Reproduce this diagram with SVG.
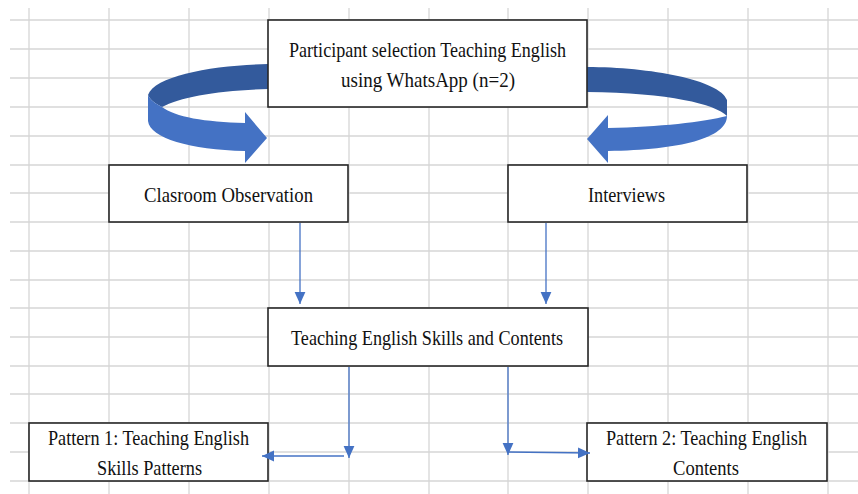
<svg xmlns="http://www.w3.org/2000/svg" width="858" height="494" viewBox="0 0 858 494">
<defs>
<style>
.grid line{stroke:#d6d6d6;stroke-width:1.3}
.box{fill:#fff;stroke:#262626;stroke-width:1.6}
.t{font-family:"Liberation Serif","Times New Roman",serif;font-size:22px;fill:#111;text-anchor:middle}
.con{stroke:#4472C4;stroke-width:1.3;fill:none}
.dark{fill:#335A9C}
.light{fill:#4472C4}
</style>
<marker id="ah" markerUnits="userSpaceOnUse" markerWidth="12" markerHeight="12" viewBox="0 0 10 10" refX="10" refY="5" orient="auto">
<path d="M0,0.5 L10,5 L0,9.5 Z" fill="#4472C4"/>
</marker>
</defs>
<rect width="858" height="494" fill="#fff"/>
<g class="grid">
<line x1="29" y1="8" x2="29" y2="494"/>
<line x1="109" y1="8" x2="109" y2="494"/>
<line x1="189" y1="8" x2="189" y2="494"/>
<line x1="269" y1="8" x2="269" y2="494"/>
<line x1="349" y1="8" x2="349" y2="494"/>
<line x1="429" y1="8" x2="429" y2="494"/>
<line x1="508" y1="8" x2="508" y2="494"/>
<line x1="588" y1="8" x2="588" y2="494"/>
<line x1="668" y1="8" x2="668" y2="494"/>
<line x1="748" y1="8" x2="748" y2="494"/>
<line x1="828" y1="8" x2="828" y2="494"/>
<line x1="10" y1="20" x2="858" y2="20"/>
<line x1="10" y1="49" x2="858" y2="49"/>
<line x1="10" y1="78" x2="858" y2="78"/>
<line x1="10" y1="107" x2="858" y2="107"/>
<line x1="10" y1="136" x2="858" y2="136"/>
<line x1="10" y1="165" x2="858" y2="165"/>
<line x1="10" y1="193" x2="858" y2="193"/>
<line x1="10" y1="222" x2="858" y2="222"/>
<line x1="10" y1="251" x2="858" y2="251"/>
<line x1="10" y1="280" x2="858" y2="280"/>
<line x1="10" y1="308" x2="858" y2="308"/>
<line x1="10" y1="337" x2="858" y2="337"/>
<line x1="10" y1="366" x2="858" y2="366"/>
<line x1="10" y1="394" x2="858" y2="394"/>
<line x1="10" y1="423" x2="858" y2="423"/>
<line x1="10" y1="452" x2="858" y2="452"/>
<line x1="10" y1="481" x2="858" y2="481"/>
</g>
<g id="curved-left">
<path class="dark" d="M268,64 C215,65 155,75 148,95 C150,100 156,104 162,107 C180,97 220,90 268,89 Z"/>
<path class="light" d="M148,95 L148,121 C150,138 190,150 245,151 L245,163 L267,138 L245,112 L245,123 C205,122 175,117 162,107 C156,104 150,100 148,95 Z"/>
</g>
<g id="curved-right">
<path class="dark" d="M587,67 C650,67 720,80 727,100 L727,116 C715,104 670,93 587,92 Z"/>
<path class="light" d="M727,116 C727,138 680,150 608,151 L608,163 L587,139 L608,115 L608,128 C660,127 703,122 727,116 Z"/>
</g>
<g id="node-participant">
<rect class="box" x="268" y="20" width="319" height="87"/>
<text class="t" x="427.5" y="57" textLength="277" lengthAdjust="spacingAndGlyphs">Participant selection Teaching English</text>
<text class="t" x="428" y="87" textLength="174" lengthAdjust="spacingAndGlyphs">using WhatsApp (n=2)</text>
</g>
<g id="node-observation">
<rect class="box" x="109" y="165" width="239" height="57"/>
<text class="t" x="228.5" y="202" textLength="169" lengthAdjust="spacingAndGlyphs">Clasroom Observation</text>
</g>
<g id="node-interviews">
<rect class="box" x="508" y="165" width="239" height="57"/>
<text class="t" x="626.5" y="202" textLength="77" lengthAdjust="spacingAndGlyphs">Interviews</text>
</g>
<g id="node-skills">
<rect class="box" x="268" y="308" width="320" height="58"/>
<text class="t" x="427" y="345" textLength="272" lengthAdjust="spacingAndGlyphs">Teaching English Skills and Contents</text>
</g>
<g id="node-pattern1">
<rect class="box" x="29" y="423" width="239" height="58"/>
<text class="t" x="148.5" y="445" textLength="201" lengthAdjust="spacingAndGlyphs">Pattern 1: Teaching English</text>
<text class="t" x="149.5" y="475" textLength="105" lengthAdjust="spacingAndGlyphs">Skills Patterns</text>
</g>
<g id="node-pattern2">
<rect class="box" x="587" y="423" width="240" height="58"/>
<text class="t" x="706.5" y="445" textLength="201" lengthAdjust="spacingAndGlyphs">Pattern 2: Teaching English</text>
<text class="t" x="706" y="475" textLength="66" lengthAdjust="spacingAndGlyphs">Contents</text>
</g>
<g id="connectors">
<line class="con" x1="300" y1="223" x2="300" y2="304" marker-end="url(#ah)"/>
<line class="con" x1="546" y1="223" x2="546" y2="304" marker-end="url(#ah)"/>
<line class="con" x1="349" y1="367" x2="349" y2="458" marker-end="url(#ah)"/>
<line class="con" x1="344" y1="456" x2="262" y2="456" marker-end="url(#ah)"/>
<line class="con" x1="508" y1="367" x2="508" y2="455" marker-end="url(#ah)"/>
<line class="con" x1="508" y1="452" x2="590" y2="453" marker-end="url(#ah)"/>
</g>
</svg>
